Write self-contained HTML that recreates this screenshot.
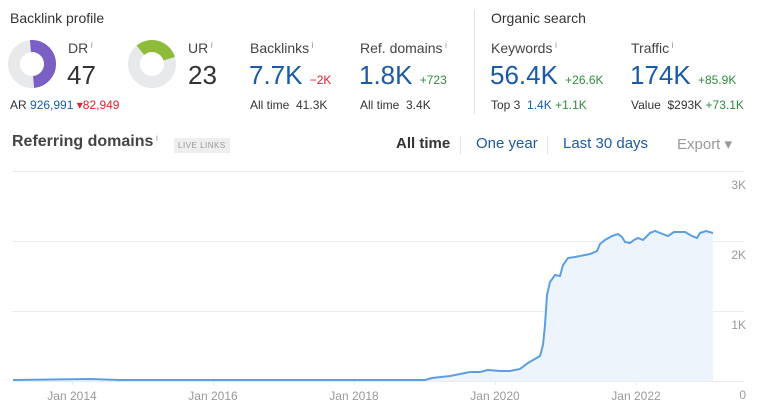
<!DOCTYPE html>
<html><head><style>
body{margin:0;width:764px;height:417px;background:#fff;font-family:"Liberation Sans",sans-serif;position:relative;overflow:hidden;color:#333}
.a{position:absolute;white-space:nowrap}
.h{font-size:14px;color:#333}
.l{font-size:14px;color:#444}
.i{font-size:9px;color:#999;vertical-align:top}
.big{font-size:26px;color:#333}
.blue{color:#1a5ba8}
.s{font-size:12px;color:#333}
.g{color:#2e8b3e;font-size:12px}
.r{color:#d9232d;font-size:12px}
</style></head><body>
<div class="a h" style="left:10px;top:10px">Backlink profile</div>
<svg class="a" style="left:8px;top:40px" width="50" height="50"><circle cx="24" cy="24" r="18" fill="none" stroke="#e8e9eb" stroke-width="12"/><path d="M24 6 A18 18 0 0 1 24 42" fill="none" stroke="#7a60c4" stroke-width="12" transform="rotate(-5 24 24)"/></svg>
<div class="a l" style="left:68px;top:40px">DR<span class="i"> i</span></div>
<div class="a big" style="left:67px;top:60px">47</div>
<div class="a s" style="left:10px;top:98px">AR <span class="blue">926,991</span> <span class="r">▾82,949</span></div>
<svg class="a" style="left:128px;top:40px" width="50" height="50"><circle cx="24" cy="24" r="18" fill="none" stroke="#e8e9eb" stroke-width="12"/><path d="M24 6 A18 18 0 0 1 40.5 31" fill="none" stroke="#8dbb3a" stroke-width="12" transform="rotate(-40 24 24)"/></svg>
<div class="a l" style="left:188px;top:40px">UR<span class="i"> i</span></div>
<div class="a big" style="left:188px;top:60px">23</div>
<div class="a l" style="left:250px;top:40px">Backlinks<span class="i"> i</span></div>
<div class="a big blue" style="left:249px;top:60px">7.7K <span class="r">−2K</span></div>
<div class="a s" style="left:250px;top:98px">All time&nbsp; 41.3K</div>
<div class="a l" style="left:360px;top:40px">Ref. domains<span class="i"> i</span></div>
<div class="a big blue" style="left:359px;top:60px">1.8K <span class="g">+723</span></div>
<div class="a s" style="left:360px;top:98px">All time&nbsp; 3.4K</div>
<div class="a" style="left:474px;top:10px;width:1px;height:104px;background:#e3e3e3"></div>
<div class="a h" style="left:491px;top:10px">Organic search</div>
<div class="a l" style="left:491px;top:40px">Keywords<span class="i"> i</span></div>
<div class="a big blue" style="left:490px;top:60px">56.4K <span class="g">+26.6K</span></div>
<div class="a s" style="left:491px;top:98px">Top 3&nbsp; <span class="blue">1.4K</span> <span class="g">+1.1K</span></div>
<div class="a l" style="left:631px;top:40px">Traffic<span class="i"> i</span></div>
<div class="a big blue" style="left:630px;top:60px">174K <span class="g">+85.9K</span></div>
<div class="a s" style="left:631px;top:98px">Value&nbsp; $293K <span class="g">+73.1K</span></div>
<div class="a" style="left:12px;top:133px;font-size:16px;font-weight:bold;color:#444">Referring domains<span class="i" style="font-weight:normal"> i</span></div>
<div class="a" style="left:174px;top:138px;background:#eee;color:#999;font-size:8px;padding:3px 4px;letter-spacing:.5px">LIVE LINKS</div>
<div class="a" style="left:396px;top:135px;font-size:15px;font-weight:bold;color:#333">All time</div>
<div class="a" style="left:460px;top:136px;width:1px;height:18px;background:#e3e3e3"></div>
<div class="a blue" style="left:476px;top:135px;font-size:15px">One year</div>
<div class="a" style="left:547px;top:136px;width:1px;height:18px;background:#e3e3e3"></div>
<div class="a blue" style="left:563px;top:135px;font-size:15px">Last 30 days</div>
<div class="a" style="left:677px;top:135px;font-size:15px;color:#999">Export ▾</div>
<svg class="a" style="left:0;top:0" width="764" height="417">
<g stroke="#ececec" stroke-width="1">
<line x1="12" y1="171.5" x2="744" y2="171.5"/><line x1="12" y1="241.5" x2="744" y2="241.5"/><line x1="12" y1="311.5" x2="744" y2="311.5"/><line x1="12" y1="381.5" x2="744" y2="381.5"/>
<line x1="72.5" y1="381" x2="72.5" y2="385"/><line x1="213.5" y1="381" x2="213.5" y2="385"/><line x1="354.5" y1="381" x2="354.5" y2="385"/><line x1="495.5" y1="381" x2="495.5" y2="385"/><line x1="636.5" y1="381" x2="636.5" y2="385"/>
</g>
<path d="M13 380 L90 379 L120 380 L300 380 L425 380 L432 378 L450 376 L470 372 L480 372 L488 370 L500 371 L510 371 L520 369 L528 363 L540 356 L543 345 L545 325 L547 295 L550 282 L555 275 L560 276 L563 265 L568 258 L575 257 L580 256 L590 254 L597 251 L600 244 L605 240 L612 236 L618 234 L622 237 L625 242 L630 243 L634 240 L638 238 L643 240 L650 233 L655 231 L660 233 L668 236 L674 232 L685 232 L692 236 L697 238 L700 233 L706 231 L713 233 L713 381 L13 381 Z" fill="#eef4fb"/>
<path d="M13 380 L90 379 L120 380 L300 380 L425 380 L432 378 L450 376 L470 372 L480 372 L488 370 L500 371 L510 371 L520 369 L528 363 L540 356 L543 345 L545 325 L547 295 L550 282 L555 275 L560 276 L563 265 L568 258 L575 257 L580 256 L590 254 L597 251 L600 244 L605 240 L612 236 L618 234 L622 237 L625 242 L630 243 L634 240 L638 238 L643 240 L650 233 L655 231 L660 233 L668 236 L674 232 L685 232 L692 236 L697 238 L700 233 L706 231 L713 233" fill="none" stroke="#5b9fe0" stroke-width="2"/>
<g font-family="Liberation Sans" font-size="12" fill="#999">
<text x="746" y="189" text-anchor="end">3K</text><text x="746" y="259" text-anchor="end">2K</text><text x="746" y="329" text-anchor="end">1K</text><text x="746" y="399" text-anchor="end">0</text>
<text x="72" y="400" text-anchor="middle">Jan 2014</text><text x="213" y="400" text-anchor="middle">Jan 2016</text><text x="354" y="400" text-anchor="middle">Jan 2018</text><text x="495" y="400" text-anchor="middle">Jan 2020</text><text x="636" y="400" text-anchor="middle">Jan 2022</text>
</g>
</svg>
</body></html>
